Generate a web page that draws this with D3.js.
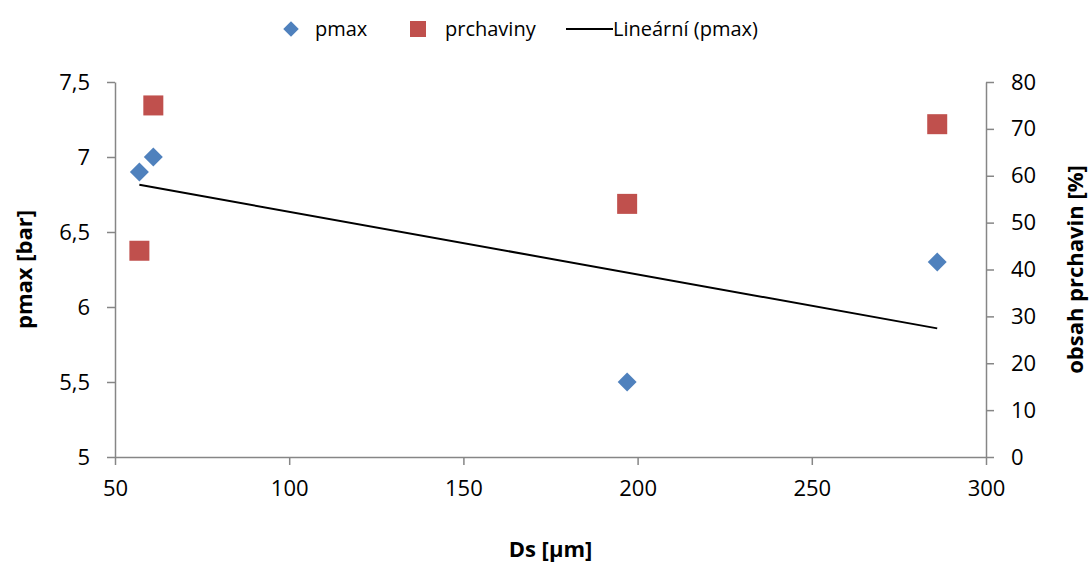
<!DOCTYPE html>
<html><head><meta charset="utf-8">
<script src="https://cdn.jsdelivr.net/npm/d3@7"></script>
<style>body{margin:0;background:#fff}text{font-family:"Open Sans",Lato,sans-serif;fill:#000}</style>
</head><body><svg id="c" width="1090" height="564"></svg>
<script>
const ds = [57, 61, 197, 286];
const pmax = [6.9, 7.0, 5.5, 6.3];
const prchaviny = [44, 75, 54, 71];
const xTicks = [50, 100, 150, 200, 250, 300];
const yLeftTicks = [5, 5.5, 6, 6.5, 7, 7.5];
const yRightTicks = [0, 10, 20, 30, 40, 50, 60, 70, 80];
const legendLabels = ["pmax", "prchaviny", "Lineární (pmax)"];

const svg = d3.select("#c");
const L = 115, R = 986, T = 82, B = 457;
const x = d3.scaleLinear().domain([50, 300]).range([L, R]);
const yL = d3.scaleLinear().domain([5, 7.5]).range([B, T]);
const yR = d3.scaleLinear().domain([0, 80]).range([B, T]);
const fmt = d => String(d).replace(".", ",");
const axisColor = "#868686";
const fs = 20, tfs = 22;

function styleAxis(g){
  g.select(".domain").attr("stroke", axisColor).attr("stroke-width", 1.5);
  g.selectAll(".tick line").attr("stroke", axisColor).attr("stroke-width", 1.5);
  g.selectAll(".tick text").attr("font-size", tfs).attr("font-family", '"Open Sans",Lato,sans-serif').attr("fill", "#000");
}
svg.append("g").attr("transform", `translate(0,${B})`)
  .call(d3.axisBottom(x).tickValues(xTicks).tickSize(8).tickPadding(15).tickSizeOuter(0))
  .call(styleAxis);
svg.append("g").attr("transform", `translate(${L},0)`)
  .call(d3.axisLeft(yL).tickValues(yLeftTicks).tickFormat(fmt).tickSize(8).tickPadding(17).tickSizeOuter(0))
  .call(styleAxis);
svg.append("g").attr("transform", `translate(${R},0)`)
  .call(d3.axisRight(yR).tickValues(yRightTicks).tickSize(8).tickPadding(17).tickSizeOuter(0))
  .call(styleAxis);

// trendline (least squares of pmax on Ds)
const mx = d3.mean(ds), my = d3.mean(pmax);
const slope = d3.sum(ds.map((d,i)=>(d-mx)*(pmax[i]-my))) / d3.sum(ds.map(d=>(d-mx)**2));
const icpt = my - slope*mx;
const x0 = d3.min(ds), x1 = d3.max(ds);
svg.append("line").attr("x1", x(x0)).attr("y1", yL(icpt+slope*x0))
  .attr("x2", x(x1)).attr("y2", yL(icpt+slope*x1))
  .attr("stroke", "#000").attr("stroke-width", 2);

const diamond = d3.symbol().type(d3.symbolSquare).size(180);
svg.append("g").selectAll("path").data(ds).join("path")
  .attr("d", diamond)
  .attr("transform", (d,i)=>`translate(${x(d)},${yL(pmax[i])}) rotate(45)`)
  .attr("fill", "#4F81BD");
const sq = 20;
svg.append("g").selectAll("rect").data(ds).join("rect")
  .attr("x", d=>x(d)-sq/2).attr("y", (d,i)=>yR(prchaviny[i])-sq/2)
  .attr("width", sq).attr("height", sq).attr("fill", "#C0504D");

// axis titles
svg.append("text").attr("x", (L+R)/2).attr("y", 557).attr("text-anchor","middle")
  .attr("font-size", tfs).attr("font-weight","bold").text("Ds [µm]");
svg.append("text").attr("transform", `translate(32,${(T+B)/2}) rotate(-90)`).attr("text-anchor","middle")
  .attr("font-size", tfs).attr("font-weight","bold").text("pmax [bar]");
svg.append("text").attr("transform", `translate(1083,${(T+B)/2}) rotate(-90)`).attr("text-anchor","middle")
  .attr("font-size", tfs).attr("font-weight","bold").text("obsah prchavin [%]");

// legend
const lg = svg.append("g");
lg.append("path").attr("d", d3.symbol().type(d3.symbolSquare).size(120))
  .attr("transform","translate(291,29) rotate(45)").attr("fill","#4F81BD");
lg.append("text").attr("x", 315).attr("y", 36).attr("font-size", fs).text(legendLabels[0]);
lg.append("rect").attr("x", 410).attr("y", 21).attr("width", 16).attr("height", 16).attr("fill","#C0504D");
lg.append("text").attr("x", 445).attr("y", 36).attr("font-size", fs).text(legendLabels[1]);
lg.append("line").attr("x1", 566).attr("x2", 613).attr("y1", 29).attr("y2", 29).attr("stroke","#000").attr("stroke-width",2);
lg.append("text").attr("x", 613).attr("y", 36).attr("font-size", fs).text(legendLabels[2]);
</script></body></html>
